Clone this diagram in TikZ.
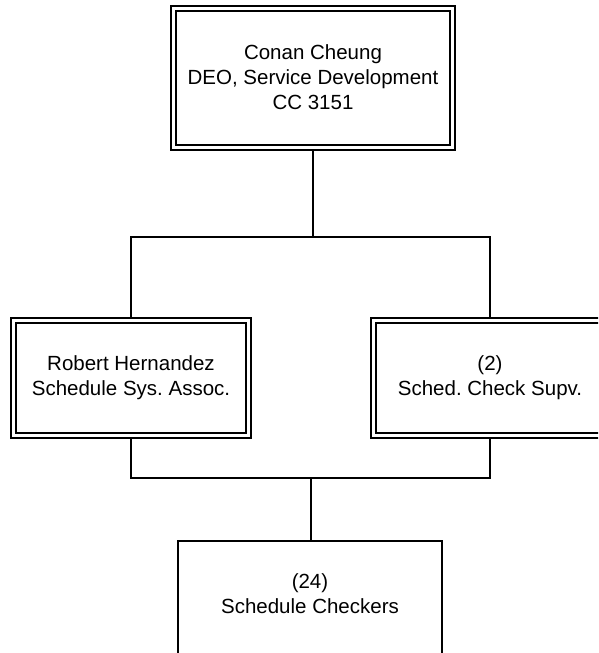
\documentclass[tikz,border=0pt]{standalone}
\usepackage{fontspec}
\setmainfont{Liberation Sans}
\frenchspacing
\begin{document}
\begin{tikzpicture}[x=1pt,y=-1pt,
  outerbox/.style={draw,line width=2pt},
  innerbox/.style={draw,line width=1.2pt},
  lbl/.style={align=center,font=\fontsize{20.5}{25}\selectfont,inner sep=0pt},
  conn/.style={line width=1.5pt}]
\useasboundingbox (0,0) rectangle (598,653);
\begin{scope}
\clip (0,0) rectangle (598,653);
% top box
\draw[outerbox] (171,6) rectangle (455,150);
\draw[innerbox] (176,11) rectangle (450,145);
\node[lbl] (top) at (313,77) {Conan Cheung\\DEO, Service Development\\CC 3151};
% left box
\draw[outerbox] (11,318) rectangle (251,438);
\draw[innerbox] (16,323) rectangle (246,433);
\node[lbl] (left) at (131,378) {Robert Hernandez\\Schedule Sys. Assoc.};
% right box
\draw[outerbox] (371,318) rectangle (609,438);
\draw[innerbox] (376,323) rectangle (604,433);
\node[lbl] (right) at (490,378) {(2)\\Sched. Check Supv.};
% bottom box
\draw[outerbox,line width=1.6pt] (178,541) rectangle (442,700);
\node[lbl] (bot) at (310,594) {(24)\\Schedule Checkers};
% connectors
\coordinate (t1) at (313,150);
\coordinate (t2) at (313,237);
\coordinate (l1) at (131,237);
\coordinate (l2) at (131,318);
\coordinate (r1) at (490,237);
\coordinate (r2) at (490,318);
\draw[conn] (t1) -- (t2);
\draw[conn] (l2) -- (l1) -- (r1) -- (r2);
\coordinate (l3) at (131,438);
\coordinate (l4) at (131,478);
\coordinate (r3) at (490,438);
\coordinate (r4) at (490,478);
\coordinate (b1) at (311,478);
\coordinate (b2) at (311,541);
\draw[conn] (l3) -- (l4) -- (r4) -- (r3);
\draw[conn] (b1) -- (b2);
\end{scope}
\end{tikzpicture}
\end{document}
